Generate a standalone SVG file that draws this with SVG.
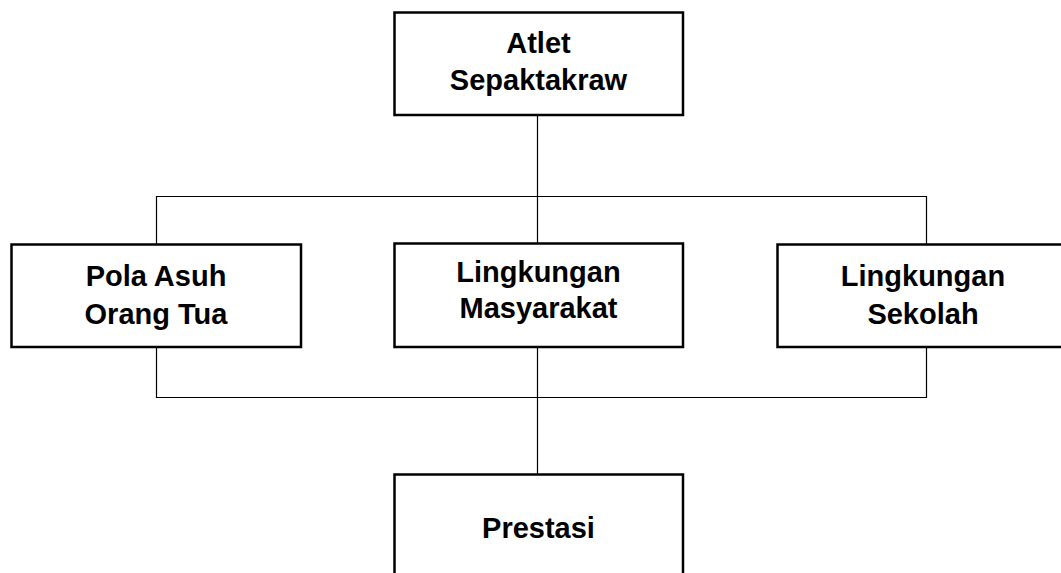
<svg xmlns="http://www.w3.org/2000/svg" width="1061" height="573" viewBox="0 0 1061 573">
<style>
.box{fill:#fff;stroke:#000;stroke-width:2.5}
.lbl{font-family:"Liberation Sans",Arial,sans-serif;font-weight:bold;font-size:29px;fill:#000;text-anchor:middle}
.con{fill:none;stroke:#000;stroke-width:1.2}
</style>
<rect width="1061" height="573" fill="#fff"/>
<g id="connectors">
<path class="con" d="M537.5 115V196.5M156.5 244V196.5H926.5V244M537.5 196.5V243"/>
<path class="con" d="M156.5 347V397.5H926.5V347M537.5 347V474"/>
</g>
<g id="atlet">
<rect class="box" x="394.5" y="12.5" width="288.5" height="102.5"/>
<text class="lbl" x="538.5" y="53">Atlet</text>
<text class="lbl" x="538.5" y="90">Sepaktakraw</text>
</g>
<g id="pola-asuh">
<rect class="box" x="11.5" y="244.5" width="289.5" height="102.5"/>
<text class="lbl" x="156" y="286">Pola Asuh</text>
<text class="lbl" x="156" y="324">Orang Tua</text>
</g>
<g id="masyarakat">
<rect class="box" x="394.5" y="243.5" width="288.5" height="103.5"/>
<text class="lbl" x="538.5" y="282">Lingkungan</text>
<text class="lbl" x="538.5" y="318">Masyarakat</text>
</g>
<g id="sekolah">
<rect class="box" x="777.5" y="244.5" width="289.5" height="102.5"/>
<text class="lbl" x="923" y="286">Lingkungan</text>
<text class="lbl" x="923" y="324">Sekolah</text>
</g>
<g id="prestasi">
<rect class="box" x="394.5" y="474.5" width="288.5" height="110"/>
<text class="lbl" x="538.5" y="538">Prestasi</text>
</g>
</svg>
